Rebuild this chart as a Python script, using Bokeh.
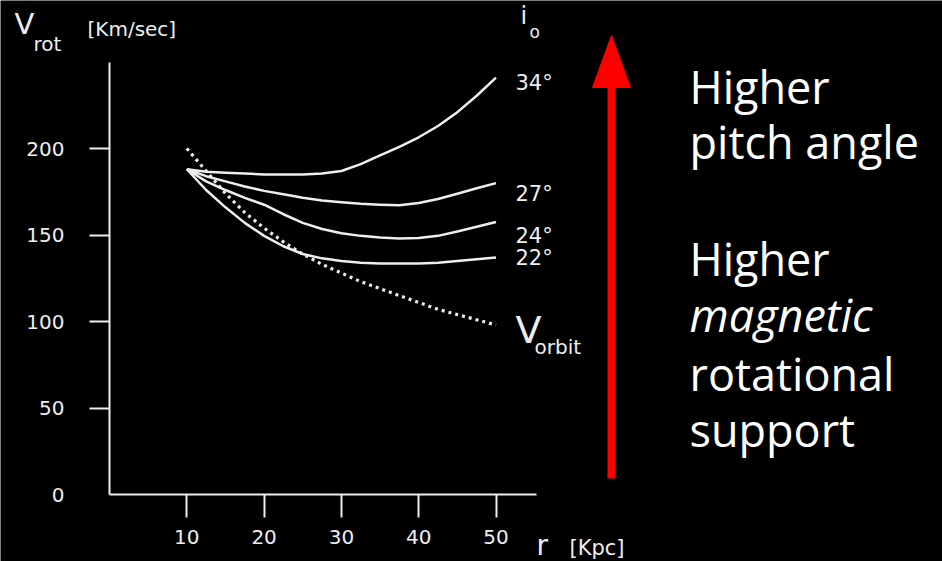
from bokeh.plotting import figure
from bokeh.models import Range1d, FixedTicker, Label, ColumnDataSource, LinearAxis
from bokeh.core.properties import value
from bokeh.embed import file_html
from bokeh.resources import INLINE

# ---------------- data ----------------
r_kpc = [10, 12.5, 15, 17.5, 20, 22.5, 25, 27.5, 30, 32.5, 35, 37.5, 40, 42.5, 45, 47.5, 50]
v_34 = [188, 186.5, 186, 185.5, 185, 185, 185, 185.5, 187, 191, 196, 201, 206.5, 213, 221, 230.5, 241]
v_27 = [188, 184, 181, 178, 175.5, 173.5, 171.5, 170, 169, 168, 167.5, 167.2, 168.5, 170.8, 173.8, 177, 180]
v_24 = [188, 181, 176, 171.5, 167.5, 162, 157, 153.5, 151, 149.5, 148.5, 148, 148.2, 149.5, 152, 154.8, 157.5]
v_22 = [188, 176, 166, 157, 149.5, 143.5, 139, 136.5, 135, 134, 133.5, 133.5, 133.5, 134, 135, 136, 137]
v_orbit = [200, 187, 174, 163, 154, 146, 139, 133, 128, 123, 119, 115, 111, 107, 104, 101, 98]

curve_labels = ["34°", "27°", "24°", "22°"]
y_ticks = [0, 50, 100, 150, 200]
x_ticks = [10, 20, 30, 40, 50]

text_block_1 = ["Higher", "pitch angle"]
text_block_2 = ["Higher", "magnetic", "rotational", "support"]

# ---------------- layout helpers (canvas pixel -> data) ----------------
W, H = 942, 561
X0, KX = 109.0, 7.73   # canvas x of r=0, px per kpc
Y0, KY = 494.0, 1.73   # canvas y of v=0, px per km/s


def dx(px):
    return (px - X0) / KX


def dy(py):
    return (Y0 - py) / KY


p = figure(width=W, height=H, output_backend="svg", toolbar_location=None,
           x_range=Range1d(dx(0), dx(W)), y_range=Range1d(dy(H), dy(0)),
           x_axis_location=None, y_axis_location=None,
           min_border_left=0, min_border_right=0, min_border_top=0, min_border_bottom=0)

p.background_fill_color = "black"
p.border_fill_color = "black"
p.outline_line_color = None
p.grid.visible = False

TICK_FONT = "DejaVu Sans"
FG = "#eeeeee"

# y axis (drawn at r = 0)
ya = LinearAxis(fixed_location=0)
ya.ticker = FixedTicker(ticks=y_ticks, minor_ticks=y_ticks[1:])
ya.bounds = (0, 250)
ya.axis_line_color = FG
ya.axis_line_width = 2
ya.major_tick_line_color = None
ya.major_tick_out = 20
ya.major_tick_in = 0
ya.minor_tick_line_color = FG
ya.minor_tick_line_width = 2
ya.minor_tick_out = 20
ya.minor_tick_in = 0
ya.major_label_standoff = 25
ya.major_label_text_color = FG
ya.major_label_text_font = TICK_FONT
ya.major_label_text_font_size = "20px"
p.add_layout(ya, "left")

# x axis (drawn at v = 0)
xa = LinearAxis(fixed_location=0)
xa.ticker = FixedTicker(ticks=x_ticks, minor_ticks=[])
xa.bounds = (0, 55.2)
xa.axis_line_color = FG
xa.axis_line_width = 2
xa.major_tick_line_color = FG
xa.major_tick_line_width = 2
xa.major_tick_out = 23
xa.major_tick_in = 0
xa.minor_tick_line_color = None
xa.major_label_standoff = 12
xa.major_label_text_color = FG
xa.major_label_text_font = TICK_FONT
xa.major_label_text_font_size = "20px"
p.add_layout(xa, "below")

# curves
for vals in (v_34, v_27, v_24, v_22):
    p.line(r_kpc, vals, line_color=FG, line_width=2.5, line_join="round")
p.line(r_kpc, v_orbit, line_color=FG, line_width=3.2, line_dash="3 4")

# curve labels
lab_src = ColumnDataSource(dict(x=[dx(515)] * 4, y=[dy(82), dy(193), dy(235), dy(257)],
                                t=curve_labels))
p.text(x="x", y="y", text="t", source=lab_src, text_color=FG,
       text_font=value(TICK_FONT), text_font_size="21px",
       text_align="left", text_baseline="middle")


def lab(px, py, text, size, font=TICK_FONT, style="normal", color=FG):
    p.add_layout(Label(x=dx(px), y=dy(py), text=text, text_color=color,
                       text_font=font, text_font_size=size, text_font_style=style,
                       text_align="left", text_baseline="middle"))


# axis titles
lab(14, 23, "V", "29px")
lab(33, 43, "rot", "20px")
lab(87, 28, "[Km/sec]", "20px")
lab(536, 545, "r", "28px")
lab(569, 547, "[Kpc]", "21px")
lab(520, 15, "i", "24px")
lab(529, 31, "o", "17px")
lab(515, 329, "V", "38px")
lab(534, 346, "orbit", "20px")

# red arrow
RED = "#ff0000"
p.segment(x0=[dx(611)], y0=[dy(478)], x1=[dx(611)], y1=[dy(86)], line_color=RED,
          line_width=8, line_cap="butt")
p.patch(x=[dx(592), dx(611), dx(630)], y=[dy(87), dy(35), dy(87)],
        fill_color=RED, line_color=RED, line_width=1)

# right side text (centres of lines; baselines at 100, 155, 272, 328, 387, 443)
TXT_FONT = "Open Sans"
for line_text, mid in zip(text_block_1, [86, 141]):
    lab(689, mid, line_text, "45px", font=TXT_FONT, color="white")
for line_text, mid, st in zip(text_block_2, [258, 314, 373, 429],
                              ["normal", "italic", "normal", "normal"]):
    lab(689, mid, line_text, "45px", font=TXT_FONT, style=st, color="white")

open("out.html", "w").write(file_html(p, INLINE))
